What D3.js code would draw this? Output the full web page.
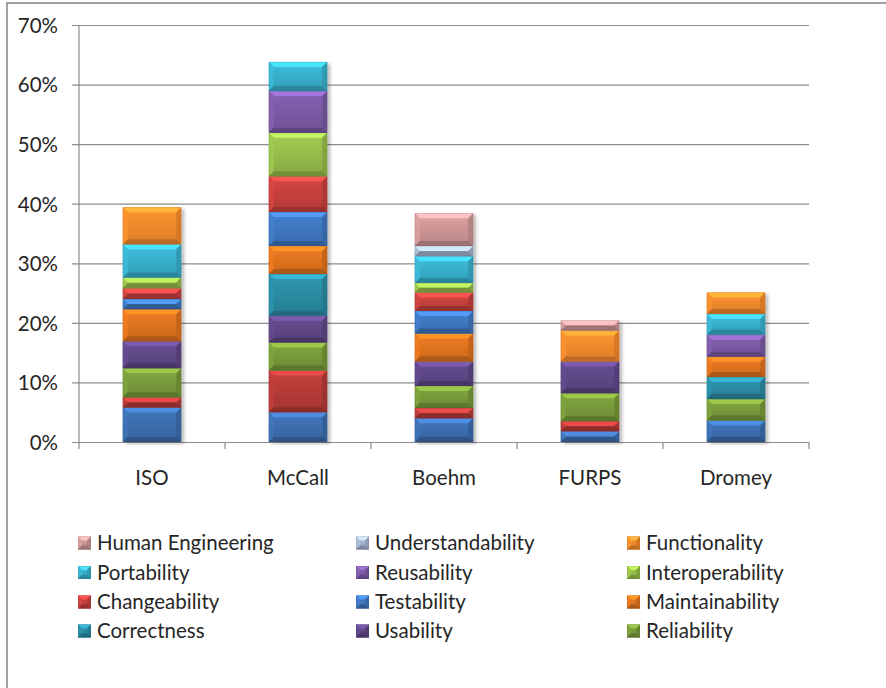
<!DOCTYPE html>
<html>
<head>
<meta charset="utf-8">
<script src="https://cdn.jsdelivr.net/npm/d3@7"></script>
<style>
  html, body { margin: 0; padding: 0; background: #fff; }
  svg { display: block; }
  text { font-family: Lato, "Open Sans", sans-serif; fill: #262626; }
</style>
</head>
<body>
<svg id="chart" width="886" height="688"></svg>
<script>
// Quality models compared
const models = ["ISO", "McCall", "Boehm", "FURPS", "Dromey"];

// Quality attributes, stacked from the bottom of each column upward
const attributes = [
  "Efficiency", "Integrity", "Reliability", "Usability", "Correctness",
  "Maintainability", "Testability", "Changeability", "Interoperability",
  "Reusability", "Portability", "Functionality", "Understandability",
  "Human Engineering"
];

// Share of each attribute (percent), one array per model, in attribute order
const iso    = [5.8, 1.7, 4.9, 4.5, 0,   5.4, 1.7, 1.8, 1.8, 0,   5.6, 6.2, 0,   0  ];
const mccall = [5.0, 7.0, 4.7, 4.5, 7.0, 4.7, 5.7, 6.0, 7.3, 7.0, 4.9, 0,   0,   0  ];
const boehm  = [4.0, 1.7, 3.7, 4.1, 0,   4.7, 3.8, 3.1, 1.6, 0,   4.5, 0,   1.7, 5.5];
const furps  = [1.8, 1.7, 4.7, 5.3, 0,   0,   0,   0,   0,   0,   0,   5.2, 0,   1.7];
const dromey = [3.6, 0,   3.6, 0,   3.7, 3.4, 0,   0,   0,   3.7, 3.5, 3.6, 0,   0  ];

// Value axis ticks (percent)
const yTicks = [0, 10, 20, 30, 40, 50, 60, 70];

// Fill colour per attribute
const colors = [
  "#3c6dae", "#b53b38", "#779a3a", "#5f4787", "#2a8ba3",
  "#e0731f", "#3f77bf", "#c6403d", "#96bc4b", "#7b5aa6",
  "#38afcb", "#f68a2c", "#a4b4cf", "#cd9595"
];

// The legend lists the twelve upper attributes, top of the stack first
const legendKeys = attributes.slice(2).reverse();

const modelValues = [iso, mccall, boehm, furps, dromey];
const table = models.map((m, i) => {
  const row = { model: m };
  attributes.forEach((a, j) => { row[a] = modelValues[i][j]; });
  return row;
});

const svg = d3.select("#chart");
const plot = { left: 79, right: 809, top: 25, bottom: 442 };

// Outer frame
svg.append("rect")
  .attr("x", 7).attr("y", 3).attr("width", 900).attr("height", 720)
  .attr("fill", "#fff").attr("stroke", "#8a8a8a").attr("stroke-width", 1.6);

const x = d3.scaleBand().domain(models).range([plot.left, plot.right])
  .paddingInner(0.6).paddingOuter(0.3);
const y = d3.scaleLinear().domain([0, 70]).range([plot.bottom, plot.top]);

const defs = svg.append("defs");
const shadow = defs.append("filter").attr("id", "shadow")
  .attr("x", "-20%").attr("y", "-5%").attr("width", "150%").attr("height", "115%");
shadow.append("feDropShadow")
  .attr("dx", 3).attr("dy", 2).attr("stdDeviation", 1.6)
  .attr("flood-color", "#000").attr("flood-opacity", 0.24);

attributes.forEach((a, i) => {
  const c = d3.color(colors[i]);
  const gr = defs.append("linearGradient").attr("id", "face" + i)
    .attr("x1", 0).attr("y1", 0).attr("x2", 0).attr("y2", 1);
  gr.append("stop").attr("offset", "0%").attr("stop-color", c.brighter(0.25));
  gr.append("stop").attr("offset", "100%").attr("stop-color", c.darker(0.3));
});

// Gridlines and value axis
const yAxis = d3.axisLeft(y).tickValues(yTicks)
  .tickSize(plot.right - plot.left + 7).tickSizeOuter(0)
  .tickFormat(d => d + "%");
const gy = svg.append("g").attr("transform", `translate(${plot.right},0)`).call(yAxis);
gy.select(".domain").remove();
gy.selectAll(".tick line").attr("stroke", "#8c8c8c").attr("stroke-width", 1.2);
gy.selectAll(".tick text").attr("font-size", 20.5).attr("dy", "0.36em")
  .style("font-family", "Lato, sans-serif").attr("fill", "#262626")
  .attr("x", -(plot.right - plot.left) - 21);

svg.append("line")
  .attr("x1", plot.left).attr("x2", plot.left)
  .attr("y1", plot.top).attr("y2", plot.bottom)
  .attr("stroke", "#8c8c8c").attr("stroke-width", 1.2);

// Category axis
const xAxis = d3.axisBottom(x).tickSize(0).tickPadding(28);
const gx = svg.append("g").attr("transform", `translate(0,${plot.bottom})`).call(xAxis);
gx.select(".domain").remove();
gx.selectAll(".tick text").attr("font-size", 20.5)
  .style("font-family", "Lato, sans-serif").attr("fill", "#262626");
const step = x.step();
const bounds = d3.range(models.length + 1).map(i => plot.left + i * step);
svg.append("g").selectAll("line").data(bounds).join("line")
  .attr("x1", d => d).attr("x2", d => d)
  .attr("y1", plot.bottom).attr("y2", plot.bottom + 7)
  .attr("stroke", "#8c8c8c").attr("stroke-width", 1.2);

// Beveled block
function block(g, bx, by, w, h, i, bev) {
  const c = d3.color(colors[i]);
  const b = Math.min(bev, h / 2, w / 2);
  g.append("rect").attr("x", bx).attr("y", by).attr("width", w).attr("height", h)
    .attr("fill", `url(#face${i})`);
  const poly = (pts, fill, op) => g.append("polygon")
    .attr("points", pts.map(p => p.join(",")).join(" "))
    .attr("fill", fill).attr("fill-opacity", op);
  poly([[bx, by], [bx + w, by], [bx + w - b, by + b], [bx + b, by + b]], c.brighter(0.8), 0.9);
  poly([[bx, by], [bx + b, by + b], [bx + b, by + h - b], [bx, by + h]], c.brighter(0.2), 0.8);
  poly([[bx + w, by], [bx + w, by + h], [bx + w - b, by + h - b], [bx + w - b, by + b]], c.darker(0.45), 0.85);
  poly([[bx, by + h], [bx + b, by + h - b], [bx + w - b, by + h - b], [bx + w, by + h]], c.darker(0.8), 0.9);
  g.append("rect").attr("x", bx + 0.25).attr("y", by + 0.25)
    .attr("width", w - 0.5).attr("height", h - 0.5)
    .attr("fill", "none").attr("stroke", c.darker(1.2)).attr("stroke-opacity", 0.35)
    .attr("stroke-width", 0.5);
}

// Stacked columns
const stack = d3.stack().keys(attributes)(table);
const bars = svg.append("g");
models.forEach((m, mi) => {
  const g = bars.append("g").attr("filter", "url(#shadow)");
  stack.forEach((layer, li) => {
    const d = layer[mi];
    if (d[1] - d[0] <= 0) return;
    const y0 = y(d[0]), y1 = y(d[1]);
    block(g, x(m), y1, x.bandwidth(), y0 - y1, li, 5);
  });
});

// Legend
const legendCols = [78, 356, 627];
const legendRows = [543, 572.5, 602, 631];
const legend = svg.append("g");
legendKeys.forEach((k, n) => {
  const col = n % 3, row = Math.floor(n / 3);
  const lx = legendCols[col], ly = legendRows[row];
  const i = attributes.indexOf(k);
  block(legend, lx, ly - 6.5, 13, 13, i, 4);
  legend.append("text").attr("x", lx + 19).attr("y", ly).attr("dy", "0.36em")
    .attr("font-size", 20.5).text(k);
});
</script>
</body>
</html>
